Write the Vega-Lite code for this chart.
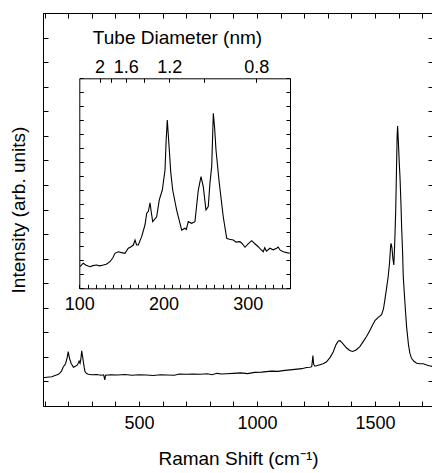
{
  "$schema": "https://vega.github.io/schema/vega-lite/v6.json",
  "width": 390,
  "height": 393,
  "autosize": {"type": "none"},
  "padding": {"left": 43, "top": 13, "right": 0, "bottom": 67},
  "background": "white",
  "config": {
    "view": {"stroke": null},
    "font": "Liberation Sans",
    "axis": {
      "grid": false,
      "domainColor": "black",
      "domainWidth": 1,
      "tickColor": "black",
      "tickWidth": 1,
      "labelColor": "black",
      "titleColor": "black",
      "labelFont": "Liberation Sans",
      "titleFont": "Liberation Sans",
      "labelFontSize": 18,
      "titleFontSize": 19,
      "titleFontWeight": "normal",
      "labelOverlap": false,
      "labelFlush": false,
      "labelBound": false
    }
  },
  "datasets": {
    "main": [
      {"shift": 93, "intensity": 1.15}, {"shift": 110, "intensity": 1.17}, {"shift": 130, "intensity": 1.19},
      {"shift": 150, "intensity": 1.26}, {"shift": 158, "intensity": 1.29}, {"shift": 165, "intensity": 1.35},
      {"shift": 172, "intensity": 1.43}, {"shift": 179, "intensity": 1.6}, {"shift": 185, "intensity": 1.66},
      {"shift": 189, "intensity": 1.74}, {"shift": 195, "intensity": 1.95}, {"shift": 200, "intensity": 2.21},
      {"shift": 205, "intensity": 1.95}, {"shift": 212, "intensity": 1.74}, {"shift": 222, "intensity": 1.58},
      {"shift": 230, "intensity": 1.62}, {"shift": 239, "intensity": 1.67}, {"shift": 246, "intensity": 1.83},
      {"shift": 250, "intensity": 1.74}, {"shift": 254, "intensity": 1.95}, {"shift": 257, "intensity": 2.25},
      {"shift": 261, "intensity": 2.0}, {"shift": 264, "intensity": 1.8}, {"shift": 268, "intensity": 1.55},
      {"shift": 271, "intensity": 1.4}, {"shift": 278, "intensity": 1.32}, {"shift": 285, "intensity": 1.29},
      {"shift": 300, "intensity": 1.27}, {"shift": 320, "intensity": 1.28}, {"shift": 340, "intensity": 1.25},
      {"shift": 350, "intensity": 1.27}, {"shift": 355, "intensity": 1.06}, {"shift": 358, "intensity": 1.25},
      {"shift": 380, "intensity": 1.27}, {"shift": 410, "intensity": 1.26}, {"shift": 440, "intensity": 1.28},
      {"shift": 470, "intensity": 1.25}, {"shift": 500, "intensity": 1.27}, {"shift": 530, "intensity": 1.26},
      {"shift": 560, "intensity": 1.24}, {"shift": 590, "intensity": 1.27}, {"shift": 620, "intensity": 1.26},
      {"shift": 650, "intensity": 1.25}, {"shift": 670, "intensity": 1.3}, {"shift": 700, "intensity": 1.29},
      {"shift": 730, "intensity": 1.3}, {"shift": 760, "intensity": 1.29}, {"shift": 790, "intensity": 1.31},
      {"shift": 810, "intensity": 1.27}, {"shift": 830, "intensity": 1.33}, {"shift": 850, "intensity": 1.3},
      {"shift": 870, "intensity": 1.31}, {"shift": 900, "intensity": 1.33}, {"shift": 930, "intensity": 1.35},
      {"shift": 960, "intensity": 1.32}, {"shift": 990, "intensity": 1.37}, {"shift": 1020, "intensity": 1.38},
      {"shift": 1040, "intensity": 1.4}, {"shift": 1060, "intensity": 1.42}, {"shift": 1090, "intensity": 1.41},
      {"shift": 1110, "intensity": 1.44}, {"shift": 1140, "intensity": 1.47}, {"shift": 1170, "intensity": 1.5},
      {"shift": 1190, "intensity": 1.52}, {"shift": 1210, "intensity": 1.57}, {"shift": 1225, "intensity": 1.58},
      {"shift": 1232, "intensity": 1.6}, {"shift": 1237, "intensity": 2.05}, {"shift": 1240, "intensity": 1.7},
      {"shift": 1246, "intensity": 1.62}, {"shift": 1260, "intensity": 1.66}, {"shift": 1280, "intensity": 1.72},
      {"shift": 1295, "intensity": 1.8}, {"shift": 1310, "intensity": 1.98}, {"shift": 1323, "intensity": 2.2},
      {"shift": 1335, "intensity": 2.5}, {"shift": 1345, "intensity": 2.65}, {"shift": 1352, "intensity": 2.66},
      {"shift": 1360, "intensity": 2.58}, {"shift": 1370, "intensity": 2.47}, {"shift": 1380, "intensity": 2.36},
      {"shift": 1393, "intensity": 2.26}, {"shift": 1405, "intensity": 2.22}, {"shift": 1420, "intensity": 2.28},
      {"shift": 1436, "intensity": 2.42}, {"shift": 1450, "intensity": 2.62}, {"shift": 1465, "intensity": 2.84},
      {"shift": 1480, "intensity": 3.1}, {"shift": 1490, "intensity": 3.3}, {"shift": 1500, "intensity": 3.48},
      {"shift": 1515, "intensity": 3.62}, {"shift": 1528, "intensity": 3.72}, {"shift": 1536, "intensity": 3.95},
      {"shift": 1542, "intensity": 4.32}, {"shift": 1550, "intensity": 4.85}, {"shift": 1556, "intensity": 5.26},
      {"shift": 1562, "intensity": 5.85}, {"shift": 1566, "intensity": 6.45}, {"shift": 1568, "intensity": 6.62},
      {"shift": 1572, "intensity": 6.45}, {"shift": 1576, "intensity": 6.0}, {"shift": 1580, "intensity": 5.74},
      {"shift": 1584, "intensity": 6.7}, {"shift": 1588, "intensity": 7.98}, {"shift": 1591, "intensity": 9.5},
      {"shift": 1594, "intensity": 11.0}, {"shift": 1596, "intensity": 11.4}, {"shift": 1599, "intensity": 10.8},
      {"shift": 1603, "intensity": 9.9}, {"shift": 1606, "intensity": 9.34}, {"shift": 1610, "intensity": 8.3},
      {"shift": 1613, "intensity": 7.3}, {"shift": 1617, "intensity": 6.3}, {"shift": 1620, "intensity": 5.26},
      {"shift": 1627, "intensity": 4.2}, {"shift": 1634, "intensity": 3.23}, {"shift": 1642, "intensity": 2.5},
      {"shift": 1648, "intensity": 2.15}, {"shift": 1655, "intensity": 1.94}, {"shift": 1665, "intensity": 1.82},
      {"shift": 1677, "intensity": 1.74}, {"shift": 1690, "intensity": 1.72}, {"shift": 1705, "intensity": 1.72},
      {"shift": 1719, "intensity": 1.67}, {"shift": 1730, "intensity": 1.64}, {"shift": 1746, "intensity": 1.6}
    ],
    "inset": [
      {"raman": 100.8, "signal": 1.54}, {"raman": 104.7, "signal": 1.79}, {"raman": 108, "signal": 1.65},
      {"raman": 112.7, "signal": 1.54}, {"raman": 116, "signal": 1.62}, {"raman": 120.6, "signal": 1.66},
      {"raman": 124, "signal": 1.6}, {"raman": 128.5, "signal": 1.66}, {"raman": 132, "signal": 1.72},
      {"raman": 136.4, "signal": 1.9}, {"raman": 140, "signal": 2.2}, {"raman": 142.3, "signal": 2.5},
      {"raman": 146.3, "signal": 2.61}, {"raman": 150, "signal": 2.55}, {"raman": 154.2, "signal": 2.5},
      {"raman": 158.1, "signal": 2.86}, {"raman": 161, "signal": 2.95}, {"raman": 164.1, "signal": 3.09},
      {"raman": 166.1, "signal": 3.45}, {"raman": 168, "signal": 3.1}, {"raman": 170, "signal": 3.09},
      {"raman": 174, "signal": 3.69}, {"raman": 177.9, "signal": 4.52}, {"raman": 180, "signal": 5.36},
      {"raman": 182, "signal": 5.5}, {"raman": 183.9, "signal": 6.11}, {"raman": 185.5, "signal": 5.4},
      {"raman": 187.1, "signal": 4.76}, {"raman": 191.8, "signal": 5.11}, {"raman": 194.9, "signal": 6.31},
      {"raman": 198.5, "signal": 7.02}, {"raman": 201.7, "signal": 8.45}, {"raman": 203, "signal": 10.5},
      {"raman": 204.4, "signal": 12.02}, {"raman": 206.8, "signal": 9.88}, {"raman": 208.5, "signal": 8.3},
      {"raman": 210.8, "signal": 7.02}, {"raman": 215.5, "signal": 5.59}, {"raman": 221.5, "signal": 4.16},
      {"raman": 225.4, "signal": 4.29}, {"raman": 227, "signal": 4.2}, {"raman": 229.3, "signal": 4.76},
      {"raman": 233.3, "signal": 4.64}, {"raman": 237.2, "signal": 4.76}, {"raman": 241.2, "signal": 7.02},
      {"raman": 244.4, "signal": 7.97}, {"raman": 247.1, "signal": 7.26}, {"raman": 250.3, "signal": 5.59},
      {"raman": 253, "signal": 5.83}, {"raman": 255, "signal": 7.5}, {"raman": 257.1, "signal": 8.69},
      {"raman": 259, "signal": 12.5}, {"raman": 260.5, "signal": 11.5}, {"raman": 262.2, "signal": 9.88},
      {"raman": 266.1, "signal": 7.5}, {"raman": 270.8, "signal": 5.11}, {"raman": 274.9, "signal": 3.57},
      {"raman": 278, "signal": 3.5}, {"raman": 282.7, "signal": 3.45}, {"raman": 286, "signal": 3.3},
      {"raman": 290.6, "signal": 3.33}, {"raman": 293, "signal": 3.2}, {"raman": 296.6, "signal": 2.93},
      {"raman": 300, "signal": 3.15}, {"raman": 304.5, "signal": 3.4}, {"raman": 308, "signal": 3.2},
      {"raman": 312.3, "signal": 2.97}, {"raman": 315, "signal": 2.8}, {"raman": 318.3, "signal": 2.61},
      {"raman": 320, "signal": 2.9}, {"raman": 322, "signal": 2.65}, {"raman": 326.2, "signal": 2.86},
      {"raman": 330, "signal": 2.75}, {"raman": 334.2, "signal": 2.86}, {"raman": 336, "signal": 2.95},
      {"raman": 338.1, "signal": 2.74}, {"raman": 342, "signal": 2.61}, {"raman": 346, "signal": 2.55},
      {"raman": 349.9, "signal": 2.5}
    ],
    "diam": [
      {"diameter": 2.48, "signal": 0},
      {"diameter": 0.70857, "signal": 0}
    ]
  },
  "layer": [
    {
      "layer": [
        {
          "data": {"name": "main"},
          "mark": {"type": "line", "color": "black", "strokeWidth": 1.1},
          "encoding": {
            "x": {
              "field": "shift", "type": "quantitative",
              "scale": {"domain": [93, 1746], "nice": false, "zero": false},
              "axis": {
                "orient": "bottom",
                "values": [100, 200, 300, 400, 500, 600, 700, 800, 900, 1000, 1100, 1200, 1300, 1400, 1500, 1600, 1700],
                "format": "d",
                "labelExpr": "datum.value % 500 == 0 ? datum.label : ''",
                "tickSize": -5,
                "labelPadding": 13,
                "title": "Raman Shift (cm⁻¹)",
                "titlePadding": 17
              }
            },
            "y": {
              "field": "intensity", "type": "quantitative",
              "scale": {"domain": [0, 16], "nice": false, "zero": false},
              "axis": {
                "orient": "left",
                "values": [0, 1, 2, 3, 4, 5, 6, 7, 8, 9, 10, 11, 12, 13, 14, 15, 16],
                "labels": false,
                "tickSize": -5,
                "title": "Intensity (arb. units)",
                "titlePadding": 14
              }
            }
          }
        },
        {
          "data": {"name": "main"},
          "mark": {"type": "line", "color": "black", "strokeWidth": 1, "opacity": 0},
          "encoding": {
            "x": {
              "field": "shift", "type": "quantitative",
              "scale": {"domain": [93, 1746], "nice": false, "zero": false},
              "axis": {
                "orient": "top",
                "values": [100, 200, 300, 400, 500, 600, 700, 800, 900, 1000, 1100, 1200, 1300, 1400, 1500, 1600, 1700],
                "labels": false,
                "tickSize": -5,
                "title": null
              }
            },
            "y": {
              "field": "intensity", "type": "quantitative",
              "scale": {"domain": [0, 16], "nice": false, "zero": false},
              "axis": {
                "orient": "right",
                "values": [0, 1, 2, 3, 4, 5, 6, 7, 8, 9, 10, 11, 12, 13, 14, 15, 16],
                "labels": false,
                "tickSize": -5,
                "title": null
              }
            }
          }
        }
      ],
      "resolve": {"axis": {"x": "independent", "y": "independent"}}
    },
    {
      "layer": [
        {
          "data": {"name": "inset"},
          "mark": {"type": "line", "color": "black", "strokeWidth": 1.1},
          "encoding": {
            "x": {
              "field": "raman", "type": "quantitative",
              "scale": {"domain": [100, 350], "range": [36.3, 247], "nice": false, "zero": false},
              "axis": {
                "orient": "bottom",
                "offset": -117.7,
                "values": [100, 110, 120, 130, 140, 150, 160, 170, 180, 190, 200, 210, 220, 230, 240, 250, 260, 270, 280, 290, 300, 310, 320, 330, 340, 350],
                "format": "d",
                "labelExpr": "datum.value % 100 == 0 ? datum.label : ''",
                "tickSize": -4,
                "labelPadding": 11,
                "title": null
              }
            },
            "y": {
              "field": "signal", "type": "quantitative",
              "scale": {"domain": [0, 15], "range": [275.3, 65.3], "nice": false, "zero": false},
              "axis": {
                "orient": "left",
                "offset": -36.3,
                "values": [0, 1, 2, 3, 4, 5, 6, 7, 8, 9, 10, 11, 12, 13, 14, 15],
                "labels": false,
                "tickSize": -4,
                "title": null
              }
            }
          }
        },
        {
          "data": {"name": "diam"},
          "mark": {"type": "point", "opacity": 0},
          "encoding": {
            "x": {
              "field": "diameter", "type": "quantitative",
              "scale": {"type": "pow", "exponent": -1, "domain": [2.48, 0.70857], "range": [36.3, 247], "nice": false, "zero": false},
              "axis": {
                "orient": "top",
                "offset": -65.3,
                "values": [2, 1.8, 1.6, 1.4, 1.2, 1.0, 0.8],
                "labelExpr": "datum.value == 2 ? '2' : (datum.value == 1.6 || datum.value == 1.2 || datum.value == 0.8) ? format(datum.value, '.1f') : ''",
                "tickSize": -4,
                "labelPadding": 6,
                "title": "Tube Diameter (nm)",
                "titlePadding": 11,
                "titleX": 134
              }
            },
            "y": {
              "field": "signal", "type": "quantitative",
              "scale": {"domain": [0, 15], "range": [275.3, 65.3], "nice": false, "zero": false},
              "axis": {
                "orient": "right",
                "offset": -143,
                "values": [0, 1, 2, 3, 4, 5, 6, 7, 8, 9, 10, 11, 12, 13, 14, 15],
                "labels": false,
                "tickSize": -4,
                "title": null
              }
            }
          }
        }
      ],
      "resolve": {"scale": {"x": "independent"}, "axis": {"x": "independent", "y": "independent"}}
    }
  ],
  "resolve": {"scale": {"x": "independent", "y": "independent"}, "axis": {"x": "independent", "y": "independent"}}
}
